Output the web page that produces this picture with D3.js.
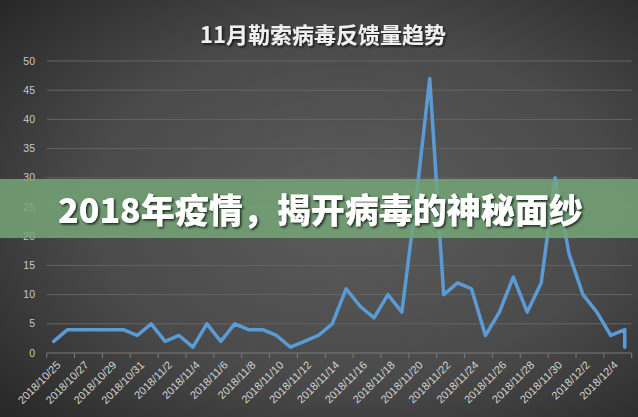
<!DOCTYPE html>
<html><head><meta charset="utf-8">
<script src="https://cdn.jsdelivr.net/npm/d3@7"></script>
<style>
html,body{margin:0;padding:0;background:#333;}
svg{display:block;}
</style></head>
<body>
<svg id="c" width="638" height="417"></svg>
<script>
// ---- data ----
const title = "11月勒索病毒反馈量趋势";
const banner = "2018年疫情，揭开病毒的神秘面纱";
const dates = ["2018/10/25","2018/10/26","2018/10/27","2018/10/28","2018/10/29","2018/10/30","2018/10/31",
  "2018/11/1","2018/11/2","2018/11/3","2018/11/4","2018/11/5","2018/11/6","2018/11/7","2018/11/8","2018/11/9",
  "2018/11/10","2018/11/11","2018/11/12","2018/11/13","2018/11/14","2018/11/15","2018/11/16","2018/11/17",
  "2018/11/18","2018/11/19","2018/11/20","2018/11/21","2018/11/22","2018/11/23","2018/11/24","2018/11/25",
  "2018/11/26","2018/11/27","2018/11/28","2018/11/29","2018/11/30","2018/12/1","2018/12/2","2018/12/3",
  "2018/12/4","2018/12/5","2018/12/5"];
const values = [2,4,4,4,4,4,3,5,2,3,1,5,2,5,4,4,3,1,2,3,5,11,8,6,10,7,26,47,10,12,11,3,7,13,7,12,30,17,10,7,3,4,1];
const tickLabels = ["2018/10/25","2018/10/27","2018/10/29","2018/10/31","2018/11/2","2018/11/4","2018/11/6",
  "2018/11/8","2018/11/10","2018/11/12","2018/11/14","2018/11/16","2018/11/18","2018/11/20","2018/11/22",
  "2018/11/24","2018/11/26","2018/11/28","2018/11/30","2018/12/2","2018/12/4"];
const yTicks = [0,5,10,15,20,25,30,35,40,45,50];

// ---- layout ----
const svg = d3.select("#c");
const W = 638, H = 417;
const pL = 46.7, pR = 631.7, pT = 61, pB = 353;

const defs = svg.append("defs");
const rg = defs.append("radialGradient").attr("id","bg").attr("cx","55%").attr("cy","50%").attr("r","75%");
rg.append("stop").attr("offset","0%").attr("stop-color","#5c5c5c");
rg.append("stop").attr("offset","55%").attr("stop-color","#4a4a4a");
rg.append("stop").attr("offset","100%").attr("stop-color","#262626");
const f = defs.append("filter").attr("id","sh").attr("x","-10%").attr("y","-30%").attr("width","120%").attr("height","160%");
f.append("feDropShadow").attr("dx",1.5).attr("dy",1.5).attr("stdDeviation",1.2).attr("flood-color","#000").attr("flood-opacity",0.75);

svg.append("rect").attr("width",W).attr("height",H).attr("fill","url(#bg)");

const uniq = Array.from(new Set(dates));
const x = d3.scaleBand().domain(uniq).range([pL,pR]).padding(0);
const y = d3.scaleLinear().domain([0,50]).range([pB,pT]);
const cx = d => x(d) + x.bandwidth()/2;

// gridlines
svg.append("g").selectAll("line").data(yTicks.filter(v=>v>0)).join("line")
  .attr("x1",pL).attr("x2",pR).attr("y1",d=>y(d)).attr("y2",d=>y(d))
  .attr("stroke","#646464").attr("stroke-width",1);

// y labels
svg.append("g").selectAll("text").data(yTicks).join("text")
  .attr("x",35).attr("y",d=>y(d)).attr("dy","0.35em").attr("text-anchor","end")
  .attr("fill","#c8c8c8").attr("font-family","Liberation Sans, Arial, sans-serif").attr("font-size",10.5)
  .text(d=>d);

// x axis
const xa = svg.append("g");
xa.append("line").attr("x1",pL).attr("x2",pR).attr("y1",pB).attr("y2",pB)
  .attr("stroke","#7a7a7a").attr("stroke-width",1);
const tickPos = tickLabels.map(d=>x(d)).concat([pR]);
xa.selectAll("line.t").data(tickPos).join("line").attr("class","t")
  .attr("x1",d=>d).attr("x2",d=>d).attr("y1",pB).attr("y2",pB+5)
  .attr("stroke","#7a7a7a");
xa.selectAll("text").data(tickLabels).join("text")
  .attr("transform",d=>`translate(${cx(d)+5},${pB+10}) rotate(-45)`)
  .attr("text-anchor","end").attr("dy","0.35em")
  .attr("fill","#d4d4d4").attr("font-family","Liberation Sans, Arial, sans-serif").attr("font-size",11)
  .text(d=>d);

// line
const pts = dates.map((d,i)=>[cx(d), y(values[i])]);
svg.append("path").attr("d", d3.line()(pts))
  .attr("fill","none").attr("stroke","#5b9bd5").attr("stroke-width",3.5)
  .attr("stroke-linejoin","round").attr("stroke-linecap","round");

// title
svg.append("text").attr("x",323).attr("y",43).attr("text-anchor","middle")
  .attr("fill","#f0f0f0").attr("font-family","Noto Sans CJK SC, sans-serif").attr("font-weight","bold")
  .attr("font-size",22).attr("filter","url(#sh)").text(title);

// banner
svg.append("rect").attr("x",0).attr("y",179).attr("width",W).attr("height",59)
  .attr("fill","#76a678").attr("opacity",0.85);
svg.append("text").attr("x",58).attr("y",223)
  .attr("fill","#ffffff").attr("font-family","Noto Sans CJK SC, sans-serif").attr("font-weight","900")
  .attr("font-size",34).attr("filter","url(#sh)").text(banner);
</script>
</body></html>
